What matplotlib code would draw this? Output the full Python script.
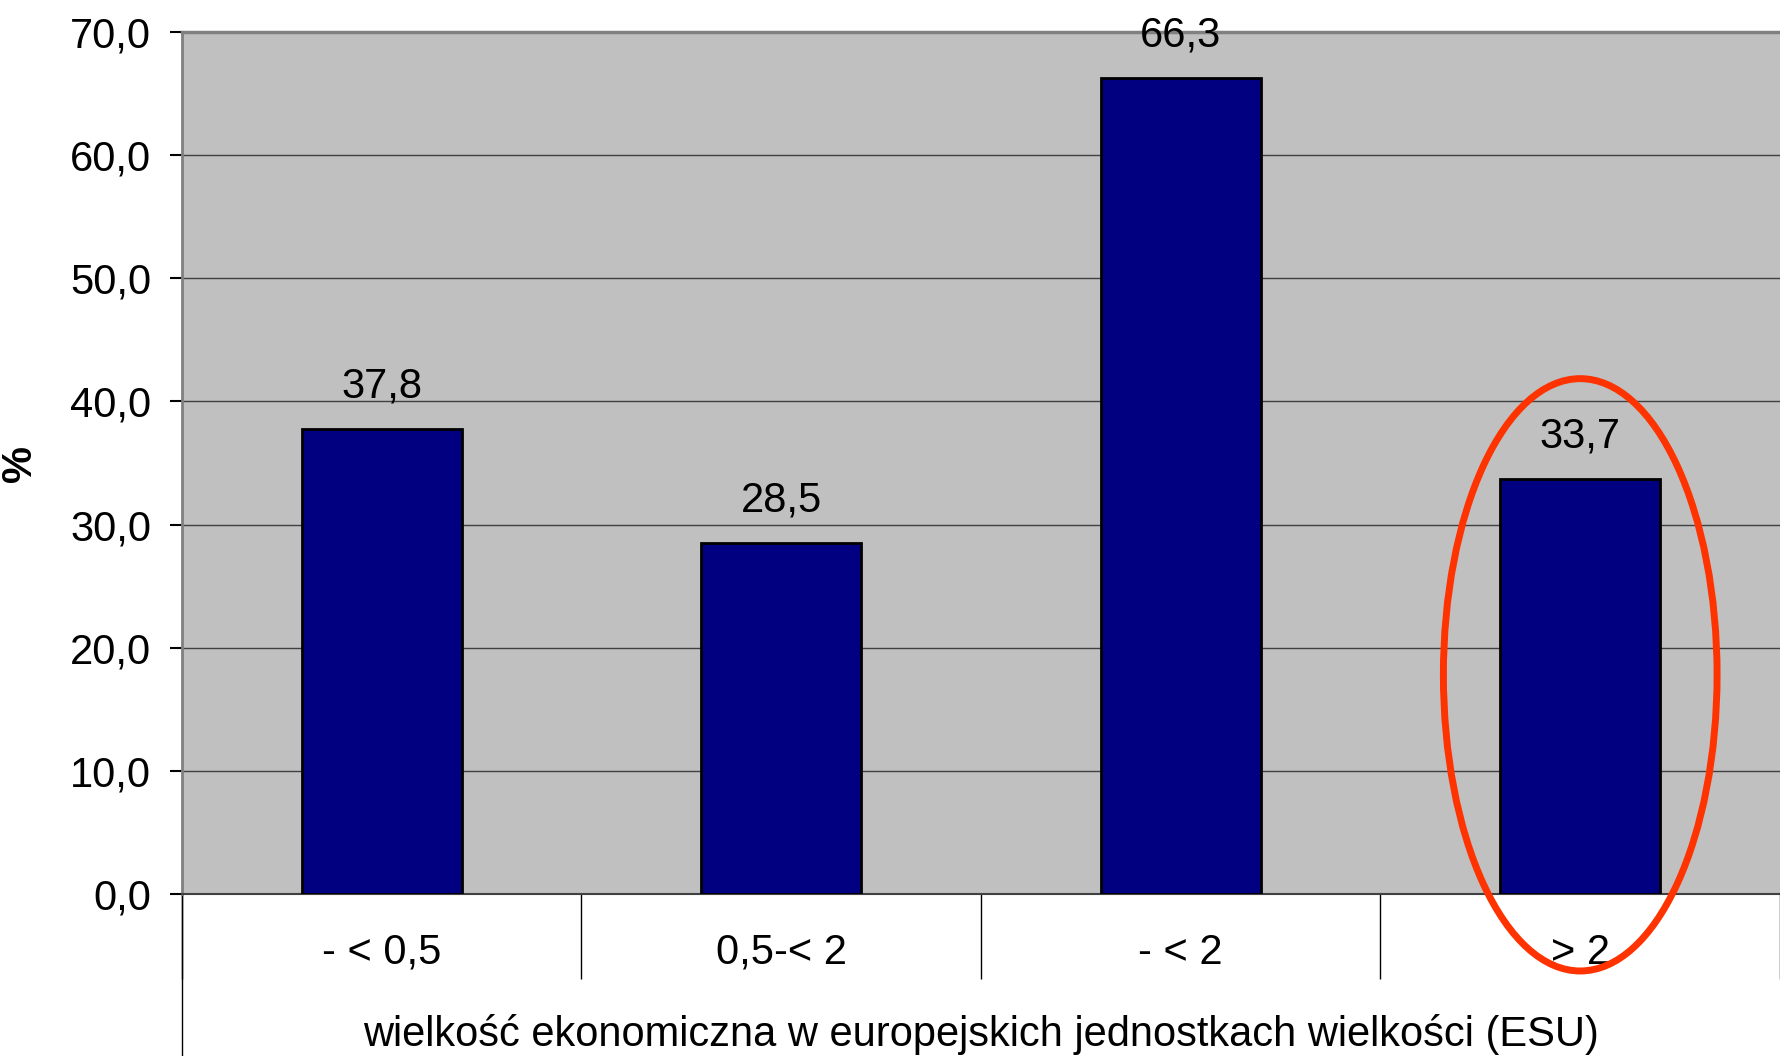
import numpy as np
import matplotlib.pyplot as plt
from matplotlib.patches import Ellipse
from matplotlib.transforms import blended_transform_factory

plt.rcParams["font.family"] = ["Liberation Sans", "DejaVu Sans"]

# dane
kategorie = ["- < 0,5", "0,5-< 2", "- < 2", "> 2"]
wartosci = [37.8, 28.5, 66.3, 33.7]
etykiety = ["37,8", "28,5", "66,3", "33,7"]
yticks = [0, 10, 20, 30, 40, 50, 60, 70]
ytick_labels = ["0,0", "10,0", "20,0", "30,0", "40,0", "50,0", "60,0", "70,0"]
wyrozniona = 3  # slupek w czerwonej elipsie

fig = plt.figure(figsize=(17.8, 10.56), dpi=100)
ax = fig.add_axes([0.1022, 0.1534, 0.8978, 0.8163])
ax.set_facecolor("#c0c0c0")

x = np.arange(len(kategorie))
ax.bar(x, wartosci, width=0.4, color="#000080", edgecolor="black", linewidth=2, zorder=3)

for xi, v, t in zip(x, wartosci, etykiety):
    ax.text(xi, v + 1.8, t, ha="center", va="bottom", fontsize=30, zorder=4)

ax.set_xlim(-0.5, 3.455)
ax.set_ylim(0, 70)

ax.set_yticks(yticks)
ax.set_yticklabels(ytick_labels, fontsize=30)
ax.tick_params(axis="y", direction="out", length=9, width=1.5, pad=13, color="black")
ax.yaxis.grid(True, color="#404040", linewidth=1, zorder=1)

ax.set_xticks(x)
ax.set_xticklabels(kategorie, fontsize=30)
ax.tick_params(axis="x", which="major", length=0, pad=28)
ax.set_xticks(np.arange(-0.5, 4.0, 1.0), minor=True)
ax.tick_params(axis="x", which="minor", direction="out", length=61, width=1, color="black")

ax.spines["right"].set_visible(False)
ax.spines["top"].set_color("#808080")
ax.spines["top"].set_linewidth(2.5)
ax.spines["left"].set_color("#808080")
ax.spines["left"].set_linewidth(2)
ax.spines["bottom"].set_color("#404040")
ax.spines["bottom"].set_linewidth(1.5)

# przedluzenie lewej osi do dolu
tr = blended_transform_factory(ax.transData, ax.transAxes)
ax.plot([-0.5, -0.5], [0, -0.19], transform=tr, color="black", linewidth=1, clip_on=False)

ax.set_xlabel("wielkość ekonomiczna w europejskich jednostkach wielkości (ESU)", fontsize=30, labelpad=22)
ax.set_ylabel("%", fontsize=30, fontweight="bold", labelpad=22)

el = Ellipse((wyrozniona, 17.8), width=0.685, height=48.1, fill=False,
             edgecolor="#ff3300", linewidth=5, clip_on=False, zorder=5)
ax.add_patch(el)

plt.savefig("out.png", dpi=100)
